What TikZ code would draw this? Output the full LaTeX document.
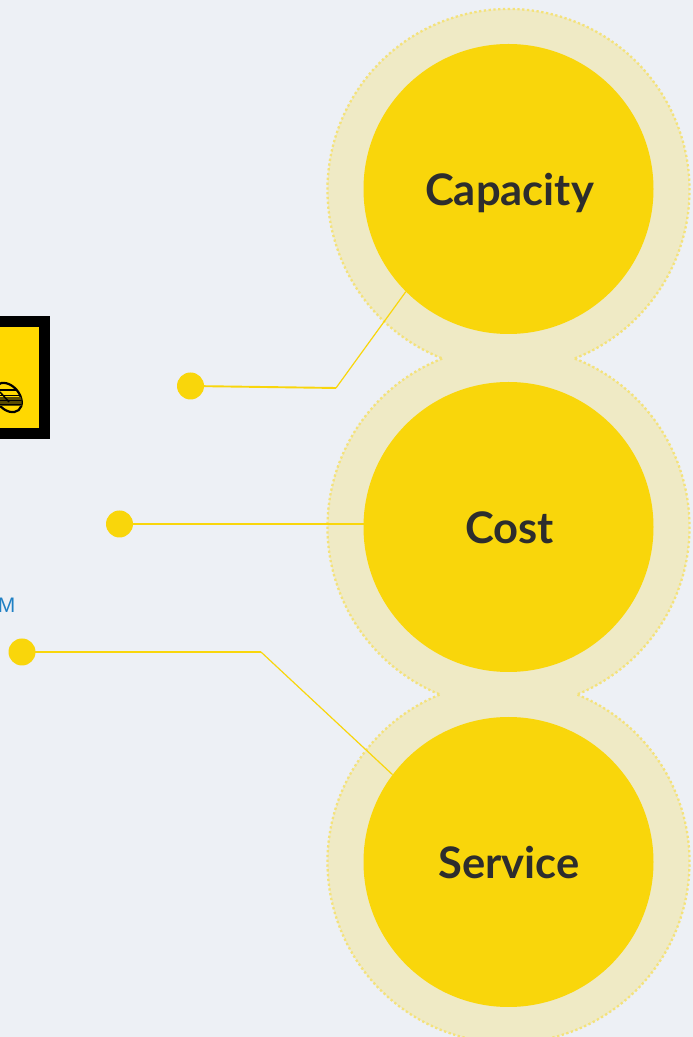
\documentclass[tikz,border=0pt]{standalone}
\usepackage{fontspec}
\setmainfont{Lato}
\newfontfamily\arialfont{Liberation Sans}
\definecolor{bgc}{HTML}{EDF0F5}
\definecolor{ringc}{HTML}{EFEAC5}
\definecolor{dotc}{HTML}{F4E27A}
\definecolor{yel}{HTML}{F9D60B}
\definecolor{ink}{HTML}{2D2D2D}
\definecolor{bluet}{HTML}{1F80C4}
\definecolor{coiny}{HTML}{FFD800}
\tikzset{
  bigc/.style={circle,fill=yel,draw=none,minimum size=290pt,inner sep=0pt},
  lab/.style={inner sep=0pt,text=ink,font=\fontsize{43.5}{44}\selectfont\bfseries},
  ringfill/.style={fill=ringc,draw=none},
  ringdots/.style={draw=dotc,line width=2.3pt,dash pattern=on 2.3pt off 2.5pt},
  pin/.style={circle,fill=yel,draw=none,minimum size=27pt,inner sep=0pt},
  link/.style={draw=yel,line width=1.2pt},
  linkh/.style={draw=yel,line width=1.9pt},
}
\begin{document}
\begin{tikzpicture}[x=1pt,y=1pt]
\useasboundingbox (0,0) rectangle (693,1037);
\clip (0,0) rectangle (693,1037);
\fill[bgc] (0,0) rectangle (693,1037);
% pale rings
\fill[ringfill] (508.5,847) circle (181);
\fill[ringfill] (508.5,510) circle (181);
\fill[ringfill] (508.5,175) circle (181);
% dotted outer outlines, broken where the rings merge
\draw[ringdots] (508.5,847) ++(-68.5:181) arc (-68.5:248.5:181);
\draw[ringdots] (508.5,510) ++(68.5:181) arc (68.5:-67.6:181);
\draw[ringdots] (508.5,510) ++(111.5:181) arc (111.5:247.6:181);
\draw[ringdots] (508.5,175) ++(67.6:181) arc (67.6:-90:181);
\draw[ringdots] (508.5,175) ++(112.4:181) arc (112.4:270:181);
% big circles
\node[bigc] (cap) at (508.5,848) {};
\node[bigc] (cost) at (508.5,510) {};
\node[bigc] (serv) at (508.5,175) {};
\node[lab,anchor=base] (capt) at (509.5,831) {Capacity};
\node[lab,anchor=base] (costt) at (509.5,493) {Cost};
\node[lab,anchor=base] (servt) at (509,158) {Service};
% pins
\node[pin] (d1) at (190.5,651) {};
\node[pin] (d2) at (119.5,513) {};
\node[pin] (d3) at (22,385) {};
\coordinate (k1) at (336,649);
\coordinate (k3) at (261,385);
\coordinate (e2) at (363.5,513);
% connectors
\draw[linkh] (d1.center) -- (k1);
\draw[link] (k1) -- (cap.225.7);
\draw[linkh] (d2.center) -- (e2);
\draw[link,line width=1.5pt] (d3.center) -- (k3);
\draw[link] (k3) -- (serv.143.4);
% icon
\fill[black] (0,598) rectangle (50,721);
\fill[coiny] (0,609) rectangle (39,710);
\begin{scope}
\clip (0,609) rectangle (39,710);
\draw[black,line width=2.2pt,fill=coiny,rotate around={-50:(8,639.5)}] (8,639.5) ellipse (16.5 and 11.5);
\clip[rotate around={-50:(8,639.5)}] (8,639.5) ellipse (16.5 and 11.5);
\draw[black,line width=1.3pt] (0,647) -- (16,647);
\draw[black,line width=1.1pt] (0,641.5) -- (22,641.5);
\fill[black!65!coiny] (0,631) rectangle (22,640);
\draw[black,line width=1.2pt] (0,636.5) -- (22,636.5);
\draw[black,line width=1.2pt] (0,632.5) -- (22,632.5);
\draw[black,line width=1.5pt] (0,645) -- (9,635);
\end{scope}
% cut-off text
\node[anchor=base east,inner sep=0pt,text=bluet,font=\arialfont\fontsize{21}{21}\selectfont] (mtxt) at (15.5,424) {M};
\end{tikzpicture}
\end{document}
